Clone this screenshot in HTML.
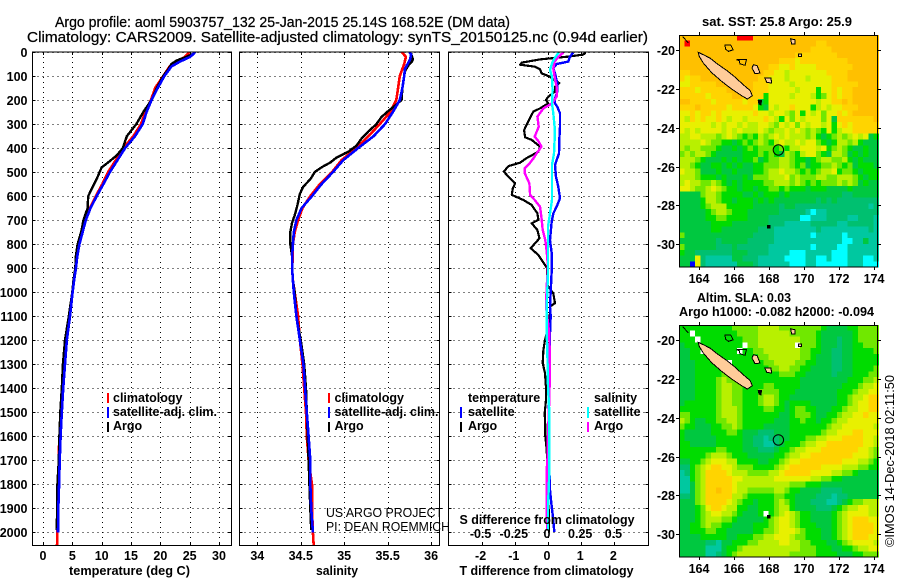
<!DOCTYPE html>
<html><head><meta charset="utf-8"><title>Argo profile</title>
<style>
html,body{margin:0;padding:0;background:#fff}
svg{display:block}
text{font-family:"Liberation Sans",sans-serif;fill:#000}
.b{font-weight:bold;font-size:12.5px}
.t{font-size:14.5px;stroke:#000;stroke-width:.25px}
.n{font-size:12.5px}
</style></head><body>
<svg id="chart" width="900" height="580" viewBox="0 0 900 580" xmlns="http://www.w3.org/2000/svg">
<text class="t" x="55" y="27" textLength="455" lengthAdjust="spacingAndGlyphs">Argo profile: aoml 5903757_132 25-Jan-2015 25.14S 168.52E (DM data)</text>
<text class="t" x="27" y="42" textLength="621" lengthAdjust="spacingAndGlyphs">Climatology: CARS2009. Satellite-adjusted climatology: synTS_20150125.nc (0.94d earlier)</text>
<g id="panels"></g>
<g id="maps"></g>
<text class="b" x="69" y="575" textLength="121" lengthAdjust="spacingAndGlyphs">temperature (deg C)</text>
<text class="b" x="316" y="575" textLength="42" lengthAdjust="spacingAndGlyphs">salinity</text>
<text class="b" x="459.5" y="575" textLength="174" lengthAdjust="spacingAndGlyphs">T difference from climatology</text>
<text class="b" x="459.5" y="524" textLength="175" lengthAdjust="spacingAndGlyphs">S difference from climatology</text>
<g>
<rect x="107" y="393" width="2" height="10" fill="#f00"/><text class="b" x="113" y="402">climatology</text>
<rect x="107" y="407" width="2" height="11" fill="#00f"/><text class="b" x="113" y="416" textLength="104" lengthAdjust="spacingAndGlyphs">satellite-adj. clim.</text>
<rect x="107" y="422" width="2" height="10" fill="#000"/><text class="b" x="113" y="430">Argo</text>
</g>
<g>
<rect x="328" y="393" width="2" height="10" fill="#f00"/><text class="b" x="334.5" y="402">climatology</text>
<rect x="328" y="407" width="2" height="11" fill="#00f"/><text class="b" x="334.5" y="416" textLength="104" lengthAdjust="spacingAndGlyphs">satellite-adj. clim.</text>
<rect x="328" y="422" width="2" height="10" fill="#000"/><text class="b" x="334.5" y="430">Argo</text>
</g>
<g>
<text class="b" x="468" y="402">temperature</text>
<rect x="460" y="407" width="2" height="11" fill="#00f"/><text class="b" x="468" y="416">satellite</text>
<rect x="460" y="422" width="2" height="10" fill="#000"/><text class="b" x="468" y="430">Argo</text>
<text class="b" x="594" y="402">salinity</text>
<rect x="587" y="407" width="2" height="11" fill="#0ff"/><text class="b" x="594" y="416">satellite</text>
<rect x="587" y="422" width="2" height="10" fill="#f0f"/><text class="b" x="594" y="430">Argo</text>
</g>
<text class="n" x="326" y="517" textLength="117" lengthAdjust="spacingAndGlyphs">US ARGO PROJECT</text>
<text class="n" x="326" y="531" textLength="124" lengthAdjust="spacingAndGlyphs">PI: DEAN ROEMMICH</text>
<text class="b" x="702" y="26" textLength="150" lengthAdjust="spacingAndGlyphs">sat. SST: 25.8 Argo: 25.9</text>
<text class="b" x="697" y="302" textLength="94" lengthAdjust="spacingAndGlyphs">Altim. SLA: 0.03</text>
<text class="b" x="679" y="316" textLength="195" lengthAdjust="spacingAndGlyphs">Argo h1000: -0.082 h2000: -0.094</text>
<text class="n" transform="translate(894,547) rotate(-90)" textLength="172" lengthAdjust="spacingAndGlyphs">©IMOS 14-Dec-2018 02:11:50</text>
</svg>
<script>
// ---------- profile tick labels ----------
const depthTicks = [0,100,200,300,400,500,600,700,800,900,1000,1100,1200,1300,1400,1500,1600,1700,1800,1900,2000];
const tempTicks = [0,5,10,15,20,25,30];
const salTicks = ['34','34.5','35','35.5','36'];
const tDiffTicks = [-2,-1,0,1,2];
const sDiffTicks = ['-0.5','-0.25','0','0.25','0.5'];
const lonTicks = [164,166,168,170,172,174];
const latTicks = [-20,-22,-24,-26,-28,-30];

// ---------- temperature profiles ----------
const tempArgoDepth = [5,20,35,50,70,100,150,200,250,300,350,400,430,460,480,520,560,600,650,700,750,800,850,900,950,1000,1100,1200,1300,1400,1500,1600,1700,1800,1900,1990];
const tempArgo = [25.8,24.5,22.8,21.9,21.4,20.5,19.4,18.5,17.1,15.9,14.3,13.6,12.6,11.1,10.0,9.3,8.5,7.7,7.6,6.9,6.5,5.9,5.6,5.5,5.2,5.0,4.4,3.75,3.4,3.2,2.95,2.8,2.7,2.45,2.4,2.35];
const tempClimDepth = [0,5,20,40,60,100,150,200,250,300,350,400,450,500,550,600,650,700,750,800,850,900,950,1000,1100,1200,1300,1400,1500,1600,1650,1700,1800,1900,2000,2060];
const tempClim = [24.9,24.8,24.2,22.8,21.6,20.5,19.1,18.4,17.4,16.7,15.4,13.7,12.4,11.1,10.1,9.0,8.0,7.3,6.7,6.2,5.85,5.6,5.3,5.05,4.55,3.98,3.64,3.4,3.2,2.95,2.67,2.67,2.6,2.55,2.44,2.38];
const tempSatDepth = [0,5,20,40,60,100,150,200,250,300,350,400,450,500,550,600,650,700,750,800,850,900,950,1000,1100,1200,1300,1400,1500,1600,1700,1800,1900,2000];
const tempSat = [25.9,25.75,25.1,23.35,21.9,20.7,19.55,18.5,17.65,17.0,15.7,14.0,12.7,11.4,10.3,9.15,8.1,7.3,6.75,6.2,5.85,5.6,5.3,5.05,4.6,4.05,3.75,3.45,3.2,3.0,2.85,2.75,2.6,2.55];

// ---------- salinity profiles ----------
const salArgoDepth = [5,20,30,40,55,80,100,150,200,225,245,270,300,330,360,390,415,440,460,480,500,530,560,590,640,680,710,750,800,850,900,950,1000,1100,1200,1300,1400,1500,1600,1700,1800,1900,1990];
const salArgo = [35.77,35.78,35.79,35.78,35.74,35.70,35.69,35.67,35.66,35.58,35.51,35.43,35.37,35.28,35.20,35.14,35.05,34.91,34.84,34.74,34.66,34.61,34.53,34.49,34.46,34.43,34.40,34.38,34.38,34.40,34.40,34.41,34.43,34.45,34.50,34.54,34.56,34.57,34.58,34.59,34.60,34.61,34.62];
const salClimDepth = [0,20,50,100,150,200,250,300,350,400,450,500,550,600,650,700,750,800,850,900,950,1000,1100,1200,1300,1400,1500,1600,1700,1800,1900,2000,2060];
const salClim = [35.66,35.71,35.69,35.64,35.62,35.60,35.53,35.41,35.28,35.14,34.97,34.86,34.72,34.61,34.52,34.47,34.43,34.41,34.41,34.40,34.41,34.43,34.47,34.49,34.52,34.54,34.56,34.57,34.59,34.63,34.63,34.64,34.65];
const salSatDepth = [0,10,30,50,70,100,150,200,250,300,350,400,450,500,550,600,650,700,750,800,850,900,950,1000,1100,1200,1300,1400,1500,1600,1700,1800,1900,2000];
const salSat = [35.75,35.77,35.76,35.73,35.70,35.69,35.67,35.64,35.56,35.47,35.34,35.16,34.99,34.87,34.74,34.63,34.51,34.45,34.42,34.41,34.40,34.40,34.41,34.42,34.45,34.49,34.53,34.55,34.57,34.59,34.61,34.61,34.62,34.64];

// ---------- difference profiles ----------
const dtArgoDepth = [3,11,19,31,44,53,61,72,89,103,114,130,144,165,186,200,214,235,248,269,297,325,355,366,394,415,443,461,475,498,519,547,568,595,616,637,672,699,713,741,776,817,845,901,970,1005,1046,1060,1081,1129,1199,1240,1296,1337,1398,1448,1504,1559,1598,1657,1800,2000];
const dtArgo = [1.14,1.06,.61,-.24,-.79,-.84,-.39,-.24,-.19,.06,.16,.34,.21,.21,.01,-.06,.01,-.24,-.44,-.52,-.62,-.72,-.69,-.49,-.24,-.29,-.66,-.84,-1.19,-1.33,-1.19,-.99,-1.06,-1.09,-.74,-.49,-.32,-.29,-.49,-.32,-.26,-.52,-.29,-.02,-.02,.16,.21,.06,.06,.04,-.09,-.14,-.16,-.09,-.06,-.06,-.1,-.08,-.08,-.04,.01,.03];
const dtSatDepth = [3,19,40,50,68,89,130,165,193,214,228,255,311,366,422,470,519,561,609,644,672,706,783,838,908,1060,1099,1171,1310,1398,1498,1657,1726,1823,1893,1948,1998];
const dtSat = [.76,.66,.61,.26,.16,.21,.28,.28,.21,.21,.28,.36,.36,.34,.33,.21,.24,.31,.36,.26,.16,.11,.06,.11,.11,.06,.08,.06,.06,.04,.02,.01,.04,.06,.11,.16,.19];
const dsSatDepth = [3,26,47,75,103,158,214,255,311,366,422,470,533,616,672,727,810,921,1060,1171,1240,1393,1498,1657,1754,1893,1990];
const dsSat = [.08,.05,.03,.015,.03,.035,.03,.04,.05,.05,.045,.03,.03,.03,.015,0,0,0,-.01,-.01,-.005,0,.01,.01,.01,0,0];
const dsArgoDepth = [3,19,40,68,103,144,186,214,235,269,311,352,373,394,422,443,461,484,505,547,595,616,644,686,741,783,831,894,977,1060,1171,1310,1448,1587,1684,1740,1893,1990];
const dsArgo = [.115,.08,.05,.04,.05,.065,.065,.03,-.035,-.08,-.07,-.10,-.07,-.05,-.085,-.11,-.135,-.175,-.175,-.14,-.135,-.10,-.06,-.05,-.04,-.02,-.01,0,-.01,-.015,.01,.015,.01,0,-.003,-.01,-.01,-.005];

// ---------- SST map levels (rows north to south) ----------
const sstRows = [
[9,9,9,9,9,9,9,9,9,9,9,11,11,11,9,9,9,9,9,9,9,9,9,9,9,9,9,9,9,9,9,9,9,9,9,9,9,9],
[9,11,9,9,9,9,9,9,9,9,9,9,9,9,9,9,9,9,9,9,9,9,9,9,9,9,8,8,9,9,9,9,9,9,9,9,9,9],
[9,9,9,9,9,9,9,9,9,9,9,9,9,9,9,9,9,9,9,9,9,9,9,9,9,8,8,8,8,9,9,9,9,9,9,9,9,9],
[9,9,9,9,9,9,9,9,9,9,9,9,9,9,9,9,9,9,9,9,9,9,8,8,8,8,8,8,8,8,9,9,9,9,9,9,9,9],
[9,9,9,9,9,9,9,9,9,9,9,9,9,9,9,9,9,9,9,8,8,8,7,8,8,8,8,8,8,8,8,8,9,9,9,9,9,9],
[9,9,9,9,9,9,9,9,9,9,9,9,9,9,9,9,9,8,8,7,7,8,7,7,7,7,8,8,8,8,8,8,8,9,9,9,9,9],
[8,8,9,9,9,9,9,9,9,9,9,9,9,9,9,9,8,8,7,7,6,7,7,7,7,7,7,7,8,8,8,8,9,9,9,9,9,9],
[8,7,8,8,9,9,9,9,9,9,9,9,9,9,9,8,8,7,7,7,6,7,7,7,6,7,7,7,7,8,8,8,9,9,9,9,9,9],
[7,7,8,8,8,8,8,9,9,9,9,9,9,9,8,8,8,7,7,7,7,6,7,7,7,7,7,7,7,8,8,8,8,8,9,9,9,9],
[8,8,8,7,8,8,8,8,8,9,9,9,9,9,8,8,8,7,7,7,7,7,6,7,7,7,4,7,7,8,7,8,8,9,9,9,9,9],
[8,8,8,8,8,7,8,8,8,8,9,9,8,8,8,8,4,7,7,7,7,6,7,7,7,6,4,5,7,8,7,8,8,9,9,9,9,9],
[9,9,8,8,8,8,7,8,8,8,8,8,7,8,8,3,4,7,7,7,7,7,7,7,7,7,6,7,7,8,8,9,8,9,9,9,9,9],
[8,8,8,9,8,8,8,8,8,7,8,8,8,8,7,4,3,7,6,7,7,8,7,7,7,4,6,7,6,7,7,8,8,8,9,9,9,9],
[7,7,8,7,8,8,7,8,7,7,7,7,7,7,8,7,7,6,7,7,6,5,7,4,7,6,7,5,7,7,8,7,8,9,9,9,9,9],
[7,6,8,7,8,7,7,8,7,6,7,7,6,7,7,7,8,7,6,4,7,5,7,6,7,7,7,5,7,3,8,8,8,8,8,8,8,9],
[7,7,7,7,7,7,6,7,6,7,7,6,7,6,6,7,7,6,5,7,6,7,5,7,6,7,7,6,7,4,7,8,7,8,8,8,8,8],
[7,6,7,6,7,7,7,7,6,7,6,7,6,6,6,7,6,5,6,6,7,6,7,6,5,6,5,4,7,4,6,7,7,8,8,8,8,8],
[6,6,7,7,6,6,6,5,6,7,6,5,4,5,4,6,5,6,7,6,7,6,6,6,5,6,4,3,4,5,6,5,6,7,6,7,3,4],
[6,6,6,6,7,6,5,5,4,4,3,4,5,4,5,6,5,4,6,7,6,6,7,6,7,7,5,4,3,4,6,6,5,6,4,3,3,3],
[6,5,6,6,5,5,5,4,3,3,4,3,4,5,4,5,5,5,4,5,4,6,6,7,7,7,6,7,4,5,6,5,4,3,3,4,3,3],
[5,6,5,6,6,5,4,3,3,3,3,3,4,4,4,5,4,5,4,3,6,5,4,6,7,7,5,4,3,6,6,5,3,4,3,4,3,3],
[6,6,6,5,4,3,3,3,4,3,4,3,4,4,5,3,4,5,5,6,6,5,4,4,3,4,5,6,6,5,5,6,4,3,4,3,3,3],
[6,6,5,4,3,3,4,4,3,4,3,4,3,3,4,4,5,5,5,6,6,5,4,5,3,4,4,5,5,6,5,4,5,3,4,4,4,3],
[7,6,6,5,3,3,3,4,3,3,4,3,3,3,4,4,5,6,6,7,6,6,5,4,5,4,5,6,6,7,4,5,5,4,3,4,4,4],
[6,6,6,5,4,4,4,3,4,3,3,3,4,3,5,5,5,6,6,6,7,5,6,5,5,5,6,6,5,5,6,6,6,5,4,3,4,4],
[6,7,6,6,5,5,6,5,4,3,4,3,4,4,4,4,5,5,6,6,6,5,6,5,4,5,4,5,5,5,6,5,6,5,3,4,3,3],
[7,7,6,5,5,6,7,6,5,4,4,3,4,4,3,4,4,5,5,4,5,4,4,4,3,4,4,4,3,3,3,3,4,3,3,3,3,3],
[3,3,3,3,5,6,6,5,4,4,4,4,3,3,4,3,4,4,4,3,4,3,3,3,3,3,3,3,3,3,3,2,2,3,3,3,3,3],
[3,3,3,3,4,6,6,5,4,4,3,4,4,4,3,4,3,4,3,3,3,3,3,3,3,3,2,3,2,3,2,2,2,2,2,2,2,2],
[3,3,3,3,4,5,6,6,6,4,4,4,4,4,3,3,3,3,3,2,3,3,2,2,2,2,2,2,2,2,2,2,2,2,2,2,1,2],
[3,3,3,3,3,4,5,6,6,5,4,4,4,3,3,3,3,3,3,2,2,2,2,2,1,0,1,1,2,2,2,2,2,2,2,2,2,2],
[3,3,3,3,3,4,4,5,5,4,4,4,4,3,3,3,3,2,2,2,2,2,2,0,0,1,1,1,2,2,2,2,1,1,2,2,2,1],
[3,3,3,3,3,3,4,4,4,4,3,3,3,3,3,3,3,2,2,2,1,1,1,1,1,2,2,2,2,2,1,1,2,2,2,2,2,1],
[3,3,3,3,3,3,4,4,3,3,3,3,3,3,3,2,2,2,1,1,1,1,1,1,1,1,2,1,1,1,1,1,1,1,1,1,2,1],
[5,3,3,3,3,3,3,3,3,3,3,3,3,3,2,2,2,2,1,1,1,1,1,1,1,0,1,1,1,1,1,0,1,1,1,1,1,1],
[3,3,3,3,3,3,3,2,3,3,3,3,3,2,2,2,2,2,1,1,1,1,1,1,1,1,1,1,1,1,1,0,0,1,1,3,1,1],
[5,3,3,3,3,3,3,2,2,2,3,2,2,2,2,2,2,1,1,1,1,1,1,1,1,0,1,1,1,1,0,0,1,1,1,1,1,1],
[4,3,3,2,2,2,2,2,2,2,3,3,3,2,2,2,2,1,1,1,1,0,0,0,1,1,1,1,1,0,0,0,1,1,1,1,1,1],
[3,3,3,7,2,1,1,1,1,1,3,3,2,2,2,1,1,1,1,1,0,0,0,0,1,1,0,0,1,0,0,0,1,1,1,0,0,1],
[3,3,10,7,2,1,1,1,1,1,1,3,3,3,2,1,1,1,1,1,1,0,0,0,1,1,0,0,0,0,0,0,1,1,1,0,0,0]
];

// ---------- SLA map levels (rows north to south) ----------
const slaRows = [
[4,4,4,4,4,4,4,4,4,4,5,5,5,5,5,6,6,6,6,5,5,5,5,5,5,5,5,4,3,3,3,3,4,4,5,5,5,5],
[4,4,12,4,4,4,4,4,4,4,4,5,5,5,5,6,6,6,6,6,6,5,5,5,5,5,4,3,3,3,3,3,3,4,5,5,5,5],
[4,4,4,12,4,4,4,4,4,4,4,4,5,5,5,6,6,6,6,6,6,6,6,5,5,5,4,3,3,3,2,3,3,4,5,5,5,5],
[3,4,4,4,4,4,4,4,4,4,4,4,12,5,5,6,6,6,6,6,6,6,12,5,5,5,4,3,3,3,2,3,3,4,4,5,5,5],
[3,3,4,4,12,4,4,4,4,4,4,12,4,4,5,5,6,6,6,6,6,6,6,5,5,4,4,3,3,2,2,3,3,4,4,4,4,5],
[3,3,4,4,4,4,4,4,4,4,4,4,4,4,4,5,5,6,6,6,6,6,6,5,5,4,3,3,3,2,2,3,3,4,4,4,4,4],
[3,3,3,4,4,4,4,4,4,12,4,4,4,4,4,4,5,5,6,6,6,6,5,5,4,4,3,3,3,2,2,3,3,4,4,4,4,4],
[3,3,3,4,4,4,4,4,4,5,4,4,4,4,4,4,4,5,5,6,6,5,5,4,4,3,3,3,3,2,2,3,3,4,4,4,4,5],
[3,3,3,4,4,4,4,4,5,5,5,4,4,4,4,4,4,4,4,5,5,5,4,4,3,3,3,3,3,2,3,3,3,4,4,4,5,5],
[3,3,3,4,4,4,4,5,6,5,5,5,4,4,4,4,4,4,4,4,4,4,4,3,3,3,3,3,3,3,3,3,4,4,4,5,5,6],
[3,3,3,4,4,4,4,5,6,6,5,5,4,4,4,4,5,5,4,4,4,4,4,3,3,3,3,3,3,3,3,4,4,4,5,6,6,7],
[3,3,3,4,4,4,4,5,6,6,5,5,4,4,4,5,5,5,5,4,4,4,3,3,3,3,3,3,3,3,4,4,4,5,6,6,7,7],
[3,3,3,4,4,4,4,5,6,6,5,5,4,4,4,5,6,6,5,4,4,3,3,3,3,3,3,3,3,3,4,4,5,6,6,7,8,8],
[3,4,4,4,4,4,4,5,6,6,5,5,4,4,4,5,6,6,5,4,3,4,4,4,4,3,3,3,3,3,4,4,5,6,7,7,8,8],
[4,4,4,4,4,4,4,5,6,6,6,5,4,4,4,4,5,5,4,4,3,4,5,5,4,4,3,3,3,4,4,5,6,6,7,7,8,8],
[5,5,4,4,4,4,4,5,6,6,6,5,4,4,4,4,4,4,4,3,3,4,5,5,5,4,3,3,4,4,5,6,6,7,7,8,7,7],
[6,5,4,3,3,4,4,5,5,6,6,5,4,4,4,4,4,4,3,3,3,4,4,5,4,4,3,4,4,5,6,6,7,7,7,7,7,7],
[5,4,4,3,3,3,4,4,5,5,6,5,4,4,4,4,3,3,3,3,3,4,4,4,4,4,4,4,5,6,6,7,7,7,7,7,7,6],
[4,3,3,3,3,3,4,4,4,5,5,4,3,3,3,2,2,2,3,3,3,4,4,4,4,4,4,5,6,6,7,7,7,8,8,7,7,7],
[4,3,3,3,3,3,3,4,4,4,4,4,3,3,2,2,1,2,2,3,3,4,4,4,5,5,6,6,7,7,7,8,8,8,8,7,7,6],
[4,4,3,3,3,3,3,4,4,4,4,4,3,3,2,2,1,1,2,3,4,4,4,5,6,6,7,7,8,8,8,8,8,8,8,7,7,6],
[4,4,4,4,4,4,4,5,5,4,4,4,3,3,3,2,2,2,3,4,4,5,6,6,7,7,7,8,8,8,8,8,8,8,7,7,6,5],
[4,4,4,4,4,5,6,6,6,5,4,4,4,3,3,3,3,3,4,4,5,6,6,7,7,8,8,8,8,8,8,8,8,7,7,7,6,5],
[3,3,4,4,5,6,7,7,7,6,6,4,4,4,4,3,3,4,4,5,6,7,7,8,8,8,8,8,8,8,8,7,7,7,6,6,5,4],
[2,2,4,5,6,7,8,8,7,7,6,5,5,5,4,4,4,4,5,6,7,8,8,8,8,8,8,7,7,7,7,6,6,6,5,5,4,4],
[1,2,4,5,6,8,8,8,8,7,6,6,6,5,5,5,5,6,6,7,8,8,8,8,8,7,7,7,7,6,6,5,5,4,3,3,3,3],
[1,1,4,5,6,8,8,8,8,8,7,7,6,6,6,6,6,6,7,7,7,7,7,7,7,6,6,5,5,4,4,3,3,3,3,3,3,3],
[1,1,3,5,6,8,8,8,8,8,7,6,6,6,6,6,6,6,6,6,6,5,5,5,4,4,4,3,3,3,3,3,3,3,3,3,3,3],
[1,1,3,5,6,8,8,9,8,8,7,6,6,5,5,5,5,5,6,6,5,4,4,3,3,3,3,2,2,2,2,3,3,3,3,3,3,3],
[2,2,3,5,6,8,8,8,8,8,6,6,5,4,4,4,4,4,5,5,4,4,3,3,3,3,2,2,2,1,2,2,3,3,3,3,3,3],
[3,3,3,5,6,8,8,8,8,7,6,5,4,4,3,4,4,4,5,6,5,4,3,3,3,2,2,2,1,1,2,3,4,5,5,6,6,6],
[3,3,3,4,5,7,8,8,7,6,6,4,4,3,3,4,4,4,5,6,6,4,3,3,3,3,2,2,2,3,4,5,6,6,7,7,6,6],
[3,3,3,4,5,6,7,7,6,6,5,4,3,3,3,4,12,4,5,6,7,6,5,4,4,3,3,3,3,4,5,6,7,7,7,7,6,6],
[3,3,3,4,5,6,6,6,5,5,4,3,3,3,3,3,4,5,6,7,7,6,5,4,4,3,3,3,3,4,5,6,7,8,8,8,7,7],
[3,3,4,4,5,6,5,5,4,4,3,3,3,3,4,4,4,5,6,7,7,6,5,4,4,4,3,3,3,4,5,6,7,8,8,8,8,7],
[3,3,4,4,4,5,5,4,4,3,3,3,3,3,4,4,5,5,6,7,7,7,6,5,4,4,4,3,3,4,5,6,7,8,8,8,8,7],
[3,3,3,3,4,4,4,4,4,3,3,4,4,4,5,5,6,6,7,7,7,6,5,5,4,4,4,3,3,4,5,6,7,8,8,8,7,7],
[3,3,3,3,3,2,2,1,3,3,4,4,4,5,5,6,6,6,6,7,7,6,6,5,5,4,4,4,3,3,4,5,6,7,7,7,7,6],
[3,3,3,3,3,1,1,1,3,4,4,5,6,6,6,6,6,6,6,6,6,6,6,5,5,5,4,4,4,3,3,4,4,5,6,6,7,7],
[3,3,3,3,3,1,1,2,3,4,5,6,6,6,6,6,6,6,6,6,6,5,5,5,5,5,4,4,4,4,3,3,3,4,4,5,5,5]
];
const levelColors = ['#00ffff','#00c8a0','#00c070','#00c840','#00dc00','#70e800','#b8f000','#e8f000','#ffd400','#ffc000','#0000ff','#ff0000','#ffffff'];

// ---------- coastline (lon/lat) ----------
const mainLon = [163.94,164.23,164.61,165.09,165.56,166.04,166.51,166.90,167.03,166.74,166.42,165.85,165.28,164.70,164.23,164.0];
const mainLat = [-20.10,-20.22,-20.40,-20.74,-21.03,-21.38,-21.77,-22.07,-22.34,-22.51,-22.34,-22.0,-21.60,-21.14,-20.65,-20.31];
const ouveaLon = [165.47,165.79,165.94,165.66,165.50];
const ouveaLat = [-19.71,-19.71,-19.97,-20.05,-19.93];
const lifouLon = [166.13,166.70,166.61,166.32,166.29];
const lifouLat = [-20.48,-20.48,-20.77,-20.69,-20.53];
const mareLon = [167.09,167.31,167.47,167.18,167.01];
const mareLat = [-20.74,-20.79,-21.17,-21.20,-20.91];
const farLon = [167.75,168.10,168.13,167.85];
const farLat = [-21.43,-21.43,-21.69,-21.65];
const chesterLon = [169.22,169.47,169.47,169.28];
const chesterLat = [-19.40,-19.45,-19.67,-19.67];
const reefLon = [169.66,169.85,169.85,169.66];
const reefLat = [-20.19,-20.19,-20.31,-20.31];
const pinesLon = [167.37,167.56,167.52,167.41];
const pinesLat = [-22.60,-22.60,-22.81,-22.77];
const southLon = [167.89,168.04,168.04,167.89];
const southLat = [-29.04,-29.04,-29.17,-29.17];
const nwReefLon = [163.05,163.37];
const nwReefLat = [-19.28,-19.62];
const argoLon = [168.52];
const argoLat = [-25.14];

const NS = 'http://www.w3.org/2000/svg';
function mk(tag, parent, attrs) {
  const e = document.createElementNS(NS, tag);
  for (const k in attrs) e.setAttribute(k, attrs[k]);
  parent.appendChild(e);
  return e;
}
const panelsG = document.getElementById('panels');
const mapsG = document.getElementById('maps');

// ---------- axis functions ----------
const yDepth = d => 52 + d * 0.2402;
const xTemp = v => 43 + v * 5.867;
const xSal = v => 257.3 + (v - 34) * 86.9;
const xDT = v => 548 + v * 33.2;
const xDS = v => 548 + v * 132.8;

function panelFrame(name, left, right, xTickPos) {
  const top = 52, bottom = 545.5;
  const g = mk('g', panelsG, {});
  
  
  depthTicks.forEach(d => {
    const y = Math.round(yDepth(d)) + 0.5;
    const line = mk('line', g, {x1:left, x2:right, y1:y, y2:y, stroke:'#000', 'stroke-width':1, 'stroke-dasharray':'1 4', 'shape-rendering':'crispEdges'});
    
    
    mk('line', g, {x1:left, x2:left+3, y1:y, y2:y, stroke:'#000', 'shape-rendering':'crispEdges'});
    mk('line', g, {x1:right-3, x2:right, y1:y, y2:y, stroke:'#000', 'shape-rendering':'crispEdges'});
  });
  xTickPos.forEach(px => {
    const x = Math.round(px) + 0.5;
    const line = mk('line', g, {x1:x, x2:x, y1:top, y2:bottom, stroke:'#000', 'stroke-width':1, 'stroke-dasharray':'1 4', 'shape-rendering':'crispEdges'});
    
    
    mk('line', g, {x1:x, x2:x, y1:top, y2:top+3, stroke:'#000', 'shape-rendering':'crispEdges'});
    mk('line', g, {x1:x, x2:x, y1:bottom-3, y2:bottom, stroke:'#000', 'shape-rendering':'crispEdges'});
  });
  const id = 'clip-' + name;
  const cp = mk('clipPath', g, {id:id});
  mk('rect', cp, {x:left, y:top, width:right-left, height:bottom-top});
  const series = mk('g', g, {'clip-path':'url(#' + id + ')'});
  
  
  const frame = mk('rect', g, {x:left, y:top, width:right-left, height:bottom-top, fill:'none', stroke:'#000', 'stroke-width':1, 'shape-rendering':'crispEdges'});
  
  
  return series;
}
function drawLine(g, name, depths, values, xf, color, w) {
  const pts = depths.map((d, i) => xf(values[i]).toFixed(1) + ',' + yDepth(d).toFixed(1)).join(' ');
  const pl = mk('polyline', g, {points:pts, fill:'none', stroke:color, 'stroke-width':w, 'shape-rendering':'crispEdges', 'stroke-linejoin':'round'});
  
  
}
function label(parent, name, x, y, txt, anchor) {
  const t = mk('text', parent, {x:x, y:y, 'class':'b', 'text-anchor':anchor || 'middle'});
  t.textContent = txt;
  
  
}

// ---------- panels ----------
const p1 = panelFrame('temperature-panel', 32.5, 231.5, tempTicks.map(xTemp));
drawLine(p1, 'temperature-climatology-line', tempClimDepth, tempClim, xTemp, '#f00', 2.6);
drawLine(p1, 'temperature-argo-line', tempArgoDepth, tempArgo, xTemp, '#000', 2.4);
drawLine(p1, 'temperature-satellite-line', tempSatDepth, tempSat, xTemp, '#00f', 2.6);
const p2 = panelFrame('salinity-panel', 239.5, 439.5, salTicks.map(s => xSal(+s)));
drawLine(p2, 'salinity-climatology-line', salClimDepth, salClim, xSal, '#f00', 2.6);
drawLine(p2, 'salinity-argo-line', salArgoDepth, salArgo, xSal, '#000', 2.4);
drawLine(p2, 'salinity-satellite-line', salSatDepth, salSat, xSal, '#00f', 2.6);
const p3 = panelFrame('difference-panel', 448.5, 648.5, tDiffTicks.map(xDT));
drawLine(p3, 't-diff-argo-line', dtArgoDepth, dtArgo, xDT, '#000', 2.2);
drawLine(p3, 't-diff-satellite-line', dtSatDepth, dtSat, xDT, '#00f', 2.4);
drawLine(p3, 's-diff-argo-line', dsArgoDepth, dsArgo, xDS, '#f0f', 2.4);
drawLine(p3, 's-diff-satellite-line', dsSatDepth, dsSat, xDS, '#0ff', 2.4);

depthTicks.forEach(d => label(panelsG, 'depth-tick-label', 27.5, Math.round(yDepth(d)) + 5, String(d), 'end'));
tempTicks.forEach(v => label(panelsG, 'temperature-tick-label', xTemp(v), 560, String(v)));
salTicks.forEach(v => label(panelsG, 'salinity-tick-label', xSal(+v), 560, v));
tDiffTicks.forEach(v => label(panelsG, 't-diff-tick-label', xDT(v) - 1, 560, String(v)));
sDiffTicks.forEach(v => label(panelsG, 's-diff-tick-label', xDS(+v) - 1, 538, v));

// ---------- maps ----------
function drawMap(name, rows, top) {
  const left = 679.3, latTop = -19.2, lonLeft = 162.857;
  const xLon = lon => 699.3 + (lon - 164) * 17.5;
  const yLat = lat => top + 15.4 + (-20 - lat) * 19.36;
  const g = mk('g', mapsG, {});
  
  
  rows.forEach((row, r) => row.forEach((level, c) => {
    const x0 = xLon(lonLeft + c * 0.3), y0 = yLat(latTop - r * 0.3);
    const cell = mk('rect', g, {x:x0.toFixed(2), y:y0.toFixed(2), width:5.55, height:6.1, fill:levelColors[level], 'shape-rendering':'crispEdges'});
    
    
  }));
  const poly = (nm, lons, lats, fill) => {
    const pts = lons.map((v, i) => xLon(v).toFixed(1) + ',' + yLat(lats[i]).toFixed(1)).join(' ');
    const p = mk('polygon', g, {points:pts, fill:fill, stroke:'#000', 'stroke-width':1, 'shape-rendering':'crispEdges'});
    
    
  };
  poly('new-caledonia', mainLon, mainLat, '#ffcc99');
  poly('ouvea-island', ouveaLon, ouveaLat, 'none');
  poly('lifou-island', lifouLon, lifouLat, 'none');
  poly('mare-island', mareLon, mareLat, '#ffcc99');
  poly('far-island', farLon, farLat, '#ffcc99');
  poly('chesterfield-island', chesterLon, chesterLat, '#ffcc99');
  poly('reef-island', reefLon, reefLat, '#ffcc99');
  poly('isle-of-pines', pinesLon, pinesLat, '#000');
  poly('south-islet', southLon, southLat, '#000');
  poly('nw-reef', nwReefLon, nwReefLat, 'none');
  const dot = mk('circle', g, {cx:xLon(argoLon[0]), cy:yLat(argoLat[0]), r:5.2, fill:'none', stroke:'#000', 'stroke-width':1});
  
  
  const frame = mk('rect', g, {x:679.5, y:top + 0.5, width:198, height:231.5, fill:'none', stroke:'#000', 'shape-rendering':'crispEdges'});
  
  
  lonTicks.forEach(v => {
    const x = Math.round(xLon(v)) + 0.5;
    mk('line', g, {x1:x, x2:x, y1:top - 3, y2:top, stroke:'#000', 'shape-rendering':'crispEdges'});
    mk('line', g, {x1:x, x2:x, y1:top + 232, y2:top + 235, stroke:'#000', 'shape-rendering':'crispEdges'});
    label(g, 'longitude-tick-label', x - 0.5, top + 248, String(v));
  });
  latTicks.forEach(v => {
    const y = Math.round(yLat(v)) + 0.5;
    mk('line', g, {x1:676, x2:679, y1:y, y2:y, stroke:'#000', 'shape-rendering':'crispEdges'});
    mk('line', g, {x1:878, x2:881, y1:y, y2:y, stroke:'#000', 'shape-rendering':'crispEdges'});
    label(g, 'latitude-tick-label', 675, y + 4.5, String(v), 'end');
  });
}
drawMap('sst-map', sstRows, 35);
drawMap('sla-map', slaRows, 325);
</script>
</body></html>
